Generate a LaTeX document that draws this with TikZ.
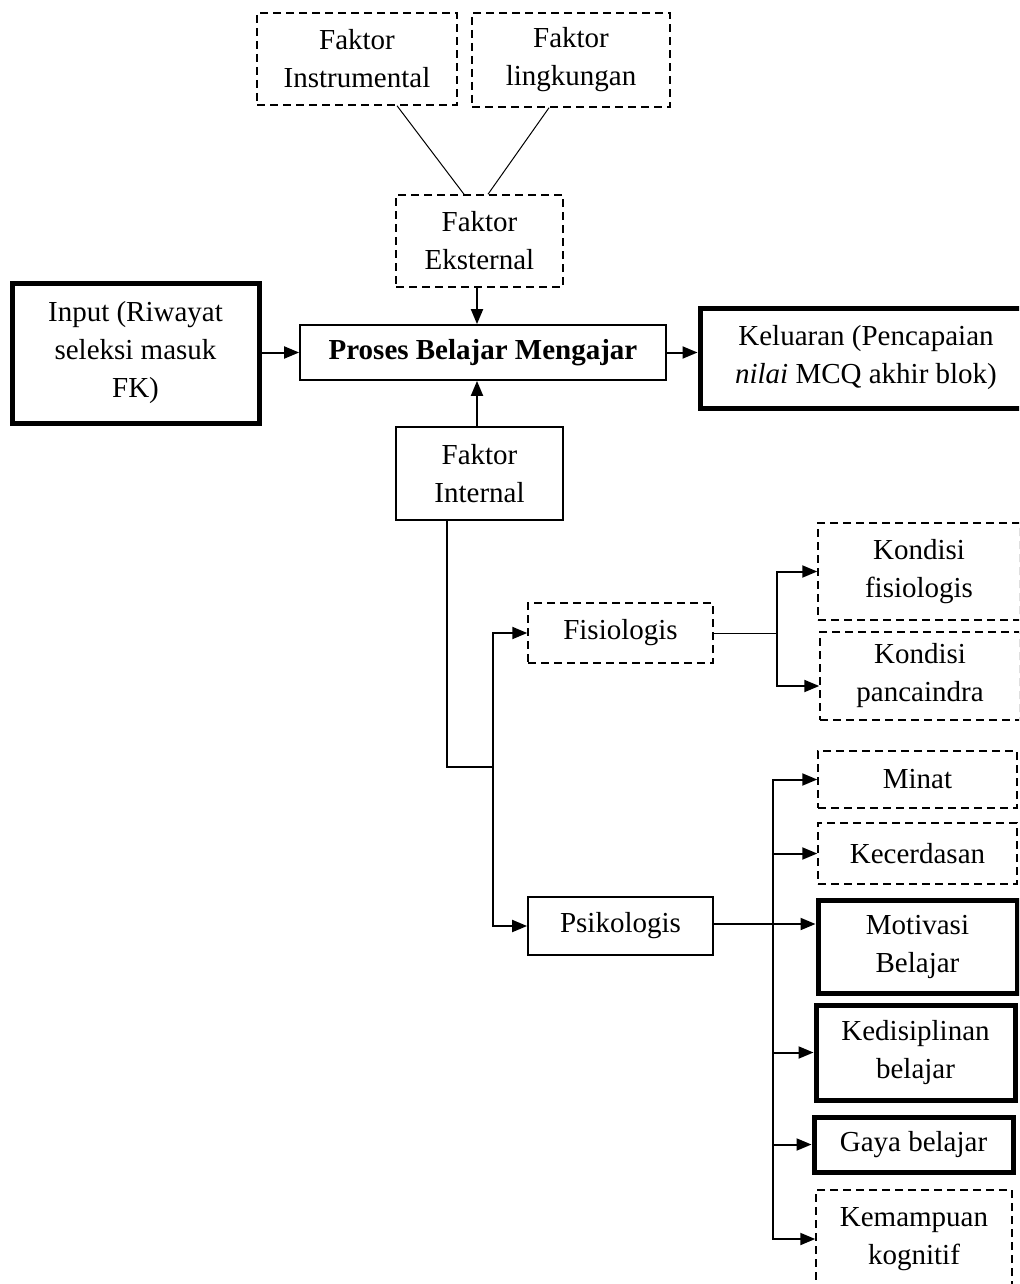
\documentclass[tikz,border=0pt]{standalone}
\usepackage{fontspec}
\setmainfont{Liberation Serif}
\usetikzlibrary{arrows.meta,positioning,calc}

\begin{document}
\begin{tikzpicture}[
  x=0.5pt, y=-0.5pt,
  box/.style={rectangle, draw, line width=0.9pt, inner sep=0pt, font=\fontsize{14.5}{19}\selectfont, align=center},
  dbox/.style={box, line width=0.75pt, dash pattern=on 4pt off 2.5pt},
  tbox/.style={box, line width=2.5pt},
  arrow/.style={-{Triangle[length=7.5pt,width=6pt]}, line width=1pt},
  link/.style={line width=0.5pt}
]
\clip (0,0) rectangle (1019,1284);

% External factors
\node[dbox, minimum width=100pt, minimum height=46pt] (instr) at (357,59) {Faktor\\Instrumental};
\node[dbox, minimum width=99pt, minimum height=47pt] (lingk) at (571,60) {Faktor\\lingkungan};
\node[dbox, minimum width=83.5pt, minimum height=46pt] (ekst) at (479.5,241) {Faktor\\Eksternal};

% Input, process, output
\node[tbox, minimum width=123.5pt, minimum height=70pt] (input) at (135.5,353) {Input (Riwayat\\seleksi masuk\\FK)};
\node[box, minimum width=183pt, minimum height=27.5pt, font=\fontsize{14.5}{19}\selectfont\bfseries] (proses) at (483,352.5) {Proses Belajar Mengajar};
\node[tbox, minimum width=166pt, minimum height=50pt] (kel) at (866,358) {Keluaran (Pencapaian\\\textit{nilai} MCQ akhir blok)};

% Internal factors
\node[box, minimum width=83.5pt, minimum height=46.5pt] (intern) at (479.5,473.5) {Faktor\\Internal};
\node[dbox, minimum width=92.5pt, minimum height=30pt] (fisio) at (620.5,633) {Fisiologis};
\node[box, minimum width=92.5pt, minimum height=29pt] (psiko) at (620.5,926) {Psikologis};

% Fisiologis branch
\node[dbox, minimum width=101pt, minimum height=48.5pt] (kfis) at (919,571.5) {Kondisi\\fisiologis};
\node[dbox, minimum width=100pt, minimum height=44pt] (kpan) at (920,676) {Kondisi\\pancaindra};

% Psikologis branch
\node[dbox, minimum width=99.5pt, minimum height=28.5pt] (minat) at (917.5,779.5) {Minat};
\node[dbox, minimum width=99.5pt, minimum height=30.5pt] (kecer) at (917.5,853.5) {Kecerdasan};
\node[tbox, minimum width=99.5pt, minimum height=46.5pt] (motiv) at (917.5,946.5) {Motivasi\\Belajar};
\node[tbox, minimum width=99.5pt, minimum height=47.5pt] (kedis) at (915.5,1052.5) {Kedisiplinan\\belajar};
\node[tbox, minimum width=99.5pt, minimum height=27.5pt] (gaya) at (913.5,1144.5) {Gaya belajar};
\node[dbox, minimum width=98pt, minimum height=49pt] (kemam) at (914,1239) {Kemampuan\\kognitif};

% Arrows
\draw[link] ([xshift=20pt]instr.south) -- ([xshift=-7.75pt]ekst.north);
\draw[link] ([xshift=-11pt]lingk.south) -- ([xshift=4.25pt]ekst.north);
\draw[arrow] ([xshift=-1.25pt]ekst.south) -- ([xshift=-1.25pt]ekst.south |- proses.north);
\draw[arrow] ([xshift=-1.25pt]intern.north) -- ([xshift=-1.25pt]intern.north |- proses.south);
\draw[arrow] (input.east |- proses.west) -- (proses.west);
\draw[arrow] (proses.east) -- (kel.west |- proses.east);

% Internal split
\coordinate (jn) at (493,767);
\draw[arrow] ([xshift=-16.5pt]intern.south) |- (jn) |- (fisio.west);
\draw[arrow] (jn) |- (psiko.west);

\coordinate (fj) at (777,633);
\draw[link] (fisio.east) -- (fj);
\draw[arrow] (fj) |- (kfis.west);
\draw[arrow] (fj) |- ([yshift=-5pt]kpan.west);

\coordinate (pj) at (773,924);
\draw[arrow] (psiko.east |- pj) -- (motiv.west |- pj);
\draw[arrow] (pj) |- (minat.west);
\draw[arrow] (pj) |- (kecer.west);
\draw[arrow] (pj) |- (kedis.west);
\draw[arrow] (pj) |- (gaya.west);
\draw[arrow] (pj) |- (kemam.west);

\end{tikzpicture}
\end{document}
